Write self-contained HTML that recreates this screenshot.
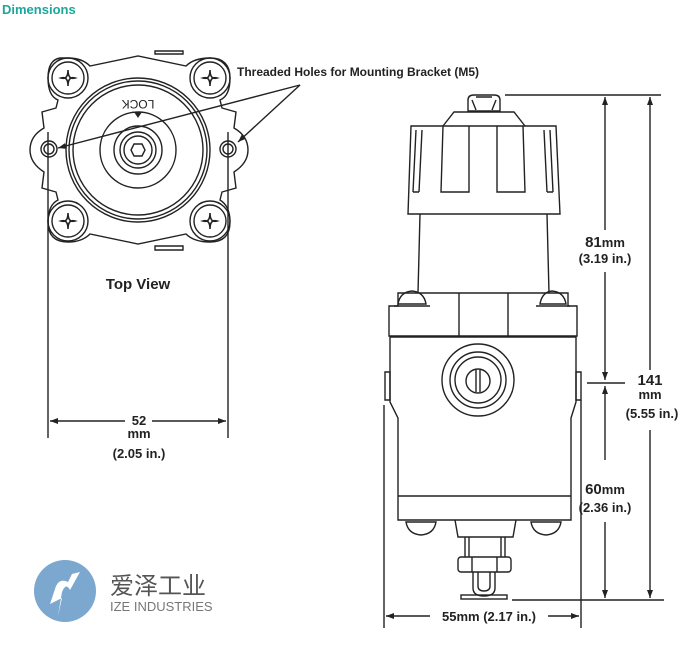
<!DOCTYPE html>
<html><head><meta charset="utf-8"><style>
html,body{margin:0;padding:0;background:#fff;}
svg{display:block;}
text{font-family:"Liberation Sans",Arial,sans-serif;fill:#222;}
</style></head><body>
<svg width="692" height="647" viewBox="0 0 692 647" xmlns="http://www.w3.org/2000/svg">
<defs>
<marker id="a" markerWidth="8" markerHeight="6" refX="8" refY="3" orient="auto" markerUnits="userSpaceOnUse"><path d="M0,0 L8,3 L0,6 z" fill="#222"/></marker>
</defs>
<text x="2" y="14" font-size="13" font-weight="bold" style="fill:#1aa89a">Dimensions</text>

<!-- TOP VIEW -->
<g fill="none" stroke="#222" stroke-width="1.4">
<path d="M155,54 L183,54 L183,51 L155,51 z"/>
<path d="M155,246 L183,246 L183,250 L155,250 z"/>
<path fill="#fff" d="M60,58 Q48,60 48,78 Q48,96 58,100 L56,108 L42,112 L44,128 Q30,136 30,150 Q30,163 44,172 L42,188 L56,192 L58,200 Q48,205 48,222 Q48,242 68,242 Q82,242 90,234 L138,244 L186,234 Q194,242 210,242 Q230,242 230,222 Q230,206 220,200 L222,192 L236,188 L234,172 Q248,163 248,150 Q248,136 234,128 L236,112 L222,108 L220,100 Q230,96 230,78 Q230,58 210,58 Q194,58 186,66 L138,56 L90,66 Q82,58 68,58 z"/>
<circle cx="68" cy="78" r="20"/><circle cx="68" cy="78" r="16"/>
<circle cx="210" cy="78" r="20"/><circle cx="210" cy="78" r="16"/>
<circle cx="68" cy="221" r="20"/><circle cx="68" cy="221" r="16"/>
<circle cx="210" cy="221" r="20"/><circle cx="210" cy="221" r="16"/>
<circle cx="138" cy="150" r="72"/><circle cx="138" cy="150" r="69"/><circle cx="138" cy="150" r="65"/>
<circle cx="138" cy="150" r="38"/><circle cx="138" cy="150" r="24"/><circle cx="138" cy="150" r="18"/><circle cx="138" cy="150" r="14"/>
<path d="M131,150 L134,144 L142,144 L145,150 L142,156 L134,156 z"/>
<circle cx="49" cy="149" r="8"/><circle cx="49" cy="149" r="5"/>
<circle cx="228" cy="149" r="8"/><circle cx="228" cy="149" r="5"/>
</g>
<g fill="none" stroke="#222" stroke-width="1.6">
<path d="M61,78 Q68,80 68,70 Q68,80 75,78 Q68,76 68,86 Q68,76 61,78 z"/>
<path d="M203,78 Q210,80 210,70 Q210,80 217,78 Q210,76 210,86 Q210,76 203,78 z"/>
<path d="M61,221 Q68,223 68,213 Q68,223 75,221 Q68,219 68,229 Q68,219 61,221 z"/>
<path d="M203,221 Q210,223 210,213 Q210,223 217,221 Q210,219 210,229 Q210,219 203,221 z"/>
</g>
<path d="M134,112 L142,112 L138,118 z" fill="#222"/>
<text x="138" y="108" font-size="12" text-anchor="middle" transform="rotate(180 138 104)">LOCK</text>
<g stroke="#222" stroke-width="1.4" fill="none">
<line x1="300" y1="85" x2="58" y2="148" marker-end="url(#a)"/>
<line x1="300" y1="85" x2="238" y2="142" marker-end="url(#a)"/>
<line x1="48" y1="132" x2="48" y2="438"/>
<line x1="228" y1="132" x2="228" y2="438"/>
<line x1="125" y1="421" x2="50" y2="421" marker-end="url(#a)"/>
<line x1="152" y1="421" x2="226" y2="421" marker-end="url(#a)"/>
</g>
<text x="237" y="76" font-size="12" font-weight="bold">Threaded Holes for Mounting Bracket (M5)</text>
<text x="138" y="289" font-size="15" font-weight="bold" text-anchor="middle">Top View</text>
<text x="139" y="425" font-size="13" font-weight="bold" text-anchor="middle">52</text>
<text x="139" y="438" font-size="13" font-weight="bold" text-anchor="middle">mm</text>
<text x="139" y="458" font-size="13" font-weight="bold" text-anchor="middle">(2.05 in.)</text>

<!-- SIDE VIEW -->
<g fill="none" stroke="#222" stroke-width="1.4">
<path d="M468,111 L468,100 Q468,95 474,95 L494,95 Q500,95 500,100 L500,111 z"/>
<path d="M472,100 L476,110 M496,100 L492,110 M476,97 L492,97"/>
<path d="M443,126 L454,112 L514,112 L525,126"/>
<path d="M411,126 L556,126 L560,214 L408,214 z"/>
<path d="M416,130 L413,192 M422,130 L419,192 M413,192 L419,192"/>
<path d="M550,130 L553,192 M544,130 L547,192 M547,192 L553,192"/>
<path d="M443,126 L441,192 L469,192 L469,126 M497,126 L497,192 L525,192 L523,126"/>
<path d="M420,214 L418,293 M547,214 L549,293"/>
<path d="M398,293 L568,293 L568,306 L577,306 L577,336 L389,336 L389,306 L398,306 z"/>
<path d="M459,293 L459,336 M508,293 L508,336"/>
<path d="M394,306 L430,306 M536,306 L570,306"/>
<path d="M398,304 Q400,292 412,291 Q424,292 426,304 z M540,304 Q542,292 552,291 Q564,292 566,304 z"/>
<path d="M390,337 L576,337 L576,402 L571,418 L571,520 L398,520 L398,418 L390,402 z"/>
<path d="M385,372 L390,372 L390,400 L385,400 z M576,372 L581,372 L581,400 L576,400 z"/>
<line x1="398" y1="496" x2="571" y2="496"/>
<circle cx="478" cy="380" r="36"/><circle cx="478" cy="380" r="28"/><circle cx="478" cy="380" r="23"/><circle cx="478" cy="381" r="12"/>
<path d="M476,370 L476,392 M480,370 L480,392"/>
<path d="M406,522 L436,522 Q434,534 421,535 Q408,534 406,522 z"/>
<path d="M531,522 L561,522 Q559,534 546,535 Q533,534 531,522 z"/>
<path d="M455,520 L458,537 L513,537 L516,520"/>
<path d="M465,537 L465,557 M469,537 L469,557 M501,537 L501,557 M505,537 L505,557"/>
<rect x="458" y="557" width="53" height="15" rx="3"/>
<path d="M472,557 L472,572 M497,557 L497,572"/>
<path d="M473,572 L473,588 Q473,596 484,596 Q495,596 495,588 L495,572"/>
<path d="M478,572 L478,586 Q478,591 484,591 Q490,591 490,586 L490,572"/>
<rect x="461" y="595" width="46" height="4"/>
</g>
<g stroke="#222" stroke-width="1.4" fill="none">
<line x1="505" y1="95" x2="661" y2="95"/>
<line x1="605" y1="230" x2="605" y2="97" marker-end="url(#a)"/>
<line x1="605" y1="272" x2="605" y2="380" marker-end="url(#a)"/>
<line x1="587" y1="383" x2="625" y2="383"/>
<line x1="650" y1="370" x2="650" y2="97" marker-end="url(#a)"/>
<line x1="650" y1="430" x2="650" y2="598" marker-end="url(#a)"/>
<line x1="605" y1="460" x2="605" y2="386" marker-end="url(#a)"/>
<line x1="605" y1="522" x2="605" y2="598" marker-end="url(#a)"/>
<line x1="512" y1="600" x2="664" y2="600"/>
<line x1="384" y1="405" x2="384" y2="628"/>
<line x1="581" y1="400" x2="581" y2="628"/>
<line x1="430" y1="616" x2="386" y2="616" marker-end="url(#a)"/>
<line x1="548" y1="616" x2="579" y2="616" marker-end="url(#a)"/>
</g>
<g font-weight="bold" text-anchor="middle">
<text x="605" y="247" font-size="15">81<tspan font-size="13">mm</tspan></text>
<text x="605" y="263" font-size="13">(3.19 in.)</text>
<text x="650" y="385" font-size="15">141</text>
<text x="650" y="399" font-size="13">mm</text>
<text x="652" y="418" font-size="13">(5.55 in.)</text>
<text x="605" y="494" font-size="15">60<tspan font-size="13">mm</tspan></text>
<text x="605" y="512" font-size="13">(2.36 in.)</text>
<text x="489" y="621" font-size="13">55mm  (2.17 in.)</text>
</g>

<!-- LOGO -->
<circle cx="65" cy="591" r="31" fill="#7ca7cf"/>
<path d="M50,604 L56,586 Q60,578 68,582 L72,574 L80,572 L70,590 Q66,582 62,592 L58,616 L62,598 z" fill="#fff"/>
<text x="110" y="594" font-size="24" style="fill:#555" font-family="'Liberation Sans','Noto Sans CJK SC',sans-serif">爱泽工业</text>
<text x="110" y="611" font-size="13" style="fill:#777">IZE INDUSTRIES</text>
</svg>
</body></html>
